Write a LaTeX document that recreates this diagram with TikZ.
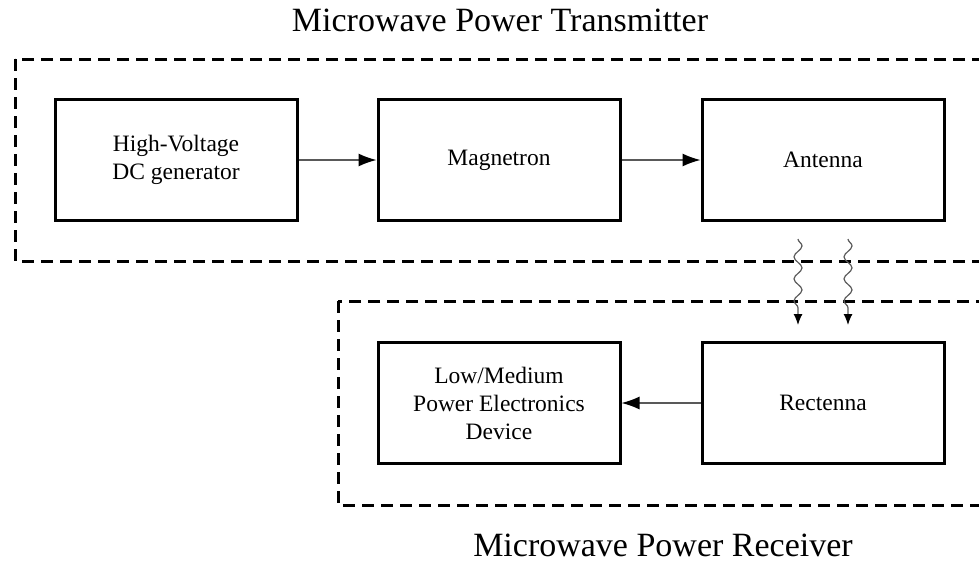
\documentclass[tikz,border=0pt]{standalone}
\usepackage{fontspec}
\setmainfont{Liberation Serif}
\usetikzlibrary{arrows.meta,decorations.pathmorphing}
\begin{document}
\begin{tikzpicture}[x=1pt,y=-1pt,
  blk/.style={draw,line width=3pt,minimum width=242pt,minimum height=121pt,inner sep=0pt,align=center,font=\fontsize{23.5}{28}\selectfont},
  grp/.style={line width=3pt,dash pattern=on 12pt off 7pt},
  conn/.style={draw=black!65,line width=1.3pt,-{Latex[length=18pt,width=13pt,color=black]}},
  wave/.style={draw=black!65,line width=1.2pt,decorate,decoration={snake,amplitude=4pt,segment length=22pt,post length=12pt},-{Latex[length=11pt,width=9pt,color=black]}},
  ttl/.style={font=\fontsize{34}{40}\selectfont}]
\useasboundingbox (0,0) rectangle (979,563);
\clip (0,0) rectangle (979,563);
\node[ttl] (t1) at (500,20) {Microwave Power Transmitter};
\node[ttl] (t2) at (663,545) {Microwave Power Receiver};
\draw[grp] (15,59) rectangle (1010,261);
\draw[grp] (338,301) rectangle (1010,505);
\node[blk] (hv) at (176,160) {High-Voltage\\DC generator};
\node[blk] (mag) at (499,160) {Magnetron};
\node[blk] (ant) at (823,160) {Antenna};
\node[blk] (dev) at (499,403) {Low/Medium\\Power Electronics\\Device};
\node[blk] (rec) at (823,403) {Rectenna};
\draw[conn] (hv) -- (mag);
\draw[conn] (mag) -- (ant);
\draw[conn] (rec) -- (dev);
\coordinate (w1s) at (798,239); \coordinate (w1e) at (798,325);
\coordinate (w2s) at (848,239); \coordinate (w2e) at (848,325);
\draw[wave] (w1s) -- (w1e);
\draw[wave] (w2s) -- (w2e);
\end{tikzpicture}
\end{document}
